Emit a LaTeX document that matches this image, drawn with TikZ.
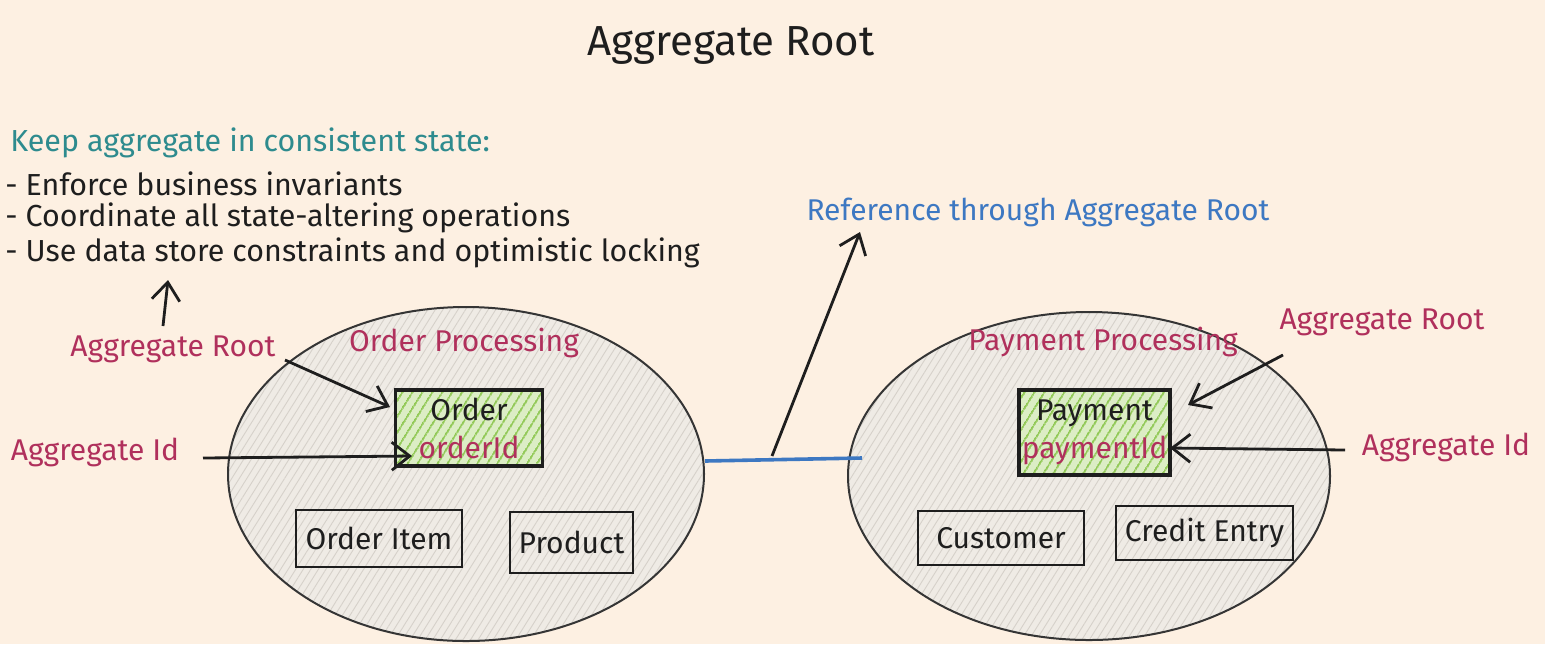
\documentclass[tikz,border=0pt]{standalone}
\usepackage{fontspec}
\setmainfont{Fira Sans}
\usetikzlibrary{patterns.meta,arrows.meta,shapes.geometric}
\definecolor{bg}{HTML}{FDF0E2}
\definecolor{pinkc}{HTML}{B0305C}
\definecolor{tealc}{HTML}{2E8B8E}
\definecolor{bluec}{HTML}{3D78C2}
\definecolor{ellfill}{HTML}{EFEBE5}
\definecolor{hatchg}{HTML}{D6D1CA}
\definecolor{greenh}{HTML}{92C957}
\definecolor{greenf}{HTML}{DCEDC5}
\definecolor{inkc}{HTML}{1E1E1E}
\begin{document}
\begin{tikzpicture}[x=0.5pt,y=-0.5pt,
  every node/.style={inner sep=0pt, text=inkc},
  txt/.style={font=\fontsize{15.2}{18}\selectfont},
  big/.style={font=\fontsize{15}{18}\selectfont},
  lbl/.style={big, text=pinkc},
  grp/.style={ellipse, draw=inkc!90, line width=1pt, preaction={fill=ellfill},
    pattern={Lines[angle=58,distance=3.2pt,line width=0.45pt]}, pattern color=hatchg},
  ent/.style={rectangle, draw=inkc, line width=1.2pt, big},
  root/.style={rectangle, draw=inkc, line width=1.6pt, big, align=center,
    preaction={fill=greenf},
    pattern={Lines[angle=58,distance=4pt,line width=1.1pt]}, pattern color=greenh},
  arr/.style={draw=inkc, line width=1.4pt, -{Straight Barb[length=9pt,width=14pt,line width=1.4pt]}},
]
\useasboundingbox (0,0) rectangle (1545,644);
\fill[bg] (0,0) rectangle (1545,644);

% title
\node[font=\fontsize{21}{25}\selectfont] (title) at (731,45) {Aggregate Root};

% left text block
\node[txt, text=tealc, anchor=west] (keep) at (10,143) {Keep aggregate in consistent state:};
\node[txt, anchor=west] (b1) at (5,184) {- Enforce business invariants};
\node[txt, anchor=west] (b2) at (5,218) {- Coordinate all state-altering operations};
\node[txt, anchor=west] (b3) at (5,253) {- Use data store constraints and optimistic locking};

% groups
\node[grp, minimum width=238pt, minimum height=167pt] (og) at (466,474) {};
\node[grp, minimum width=241pt, minimum height=164pt] (pg) at (1089,476) {};

\node[lbl] (ogl) at (464,343) {Order Processing};
\node[lbl] (pgl) at (1103,342) {Payment Processing};

% entities
\node[root, minimum width=73.5pt, minimum height=38pt] (order) at (469,428)
  {Order\\[1pt]\textcolor{pinkc}{orderId}};
\node[ent, minimum width=83pt, minimum height=28.5pt] (oitem) at (379,538.5) {Order Item};
\node[ent, minimum width=61.5pt, minimum height=30.5pt] (prod) at (571.5,542.5) {Product};

\node[root, minimum width=75.5pt, minimum height=42.5pt] (pay) at (1094.5,432.5)
  {Payment\\[1pt]\textcolor{pinkc}{paymentId}};
\node[ent, minimum width=83pt, minimum height=27pt] (cust) at (1001,538) {Customer};
\node[ent, minimum width=88.5pt, minimum height=27pt] (cred) at (1204.5,533) {Credit Entry};

% labels
\node[lbl] (arL) at (173,349) {Aggregate Root};
\node[lbl] (aiL) at (95,452) {Aggregate Id};
\node[lbl] (arR) at (1382,322) {Aggregate Root};
\node[lbl] (aiR) at (1446,447) {Aggregate Id};
\node[big, text=bluec] (ref) at (1038,212) {Reference through Aggregate Root};

% connector coordinates
\coordinate (upS) at (163,326);
\coordinate (upE) at (168,280);
\coordinate (arLs) at (285,360);
\coordinate (arLe) at (390,407);
\coordinate (aiLs) at (203,458);
\coordinate (aiLe) at (412,456);
\coordinate (bl1) at (705,461);
\coordinate (bl2) at (862,458);
\coordinate (refS) at (772,456);
\coordinate (refE) at (860,232);
\coordinate (arRs) at (1283,355);
\coordinate (arRe) at (1188,405);
\coordinate (aiRs) at (1345,450);
\coordinate (aiRe) at (1170,448);

% connectors
\draw[arr] (upS) -- (upE);
\draw[arr] (arLs) -- (arLe);
\draw[arr] (aiLs) -- (aiLe);
\draw[bluec, line width=1.8pt] (bl1) -- (bl2);
\draw[arr] (refS) -- (refE);
\draw[arr] (arRs) -- (arRe);
\draw[arr] (aiRs) -- (aiRe);
\end{tikzpicture}
\end{document}
